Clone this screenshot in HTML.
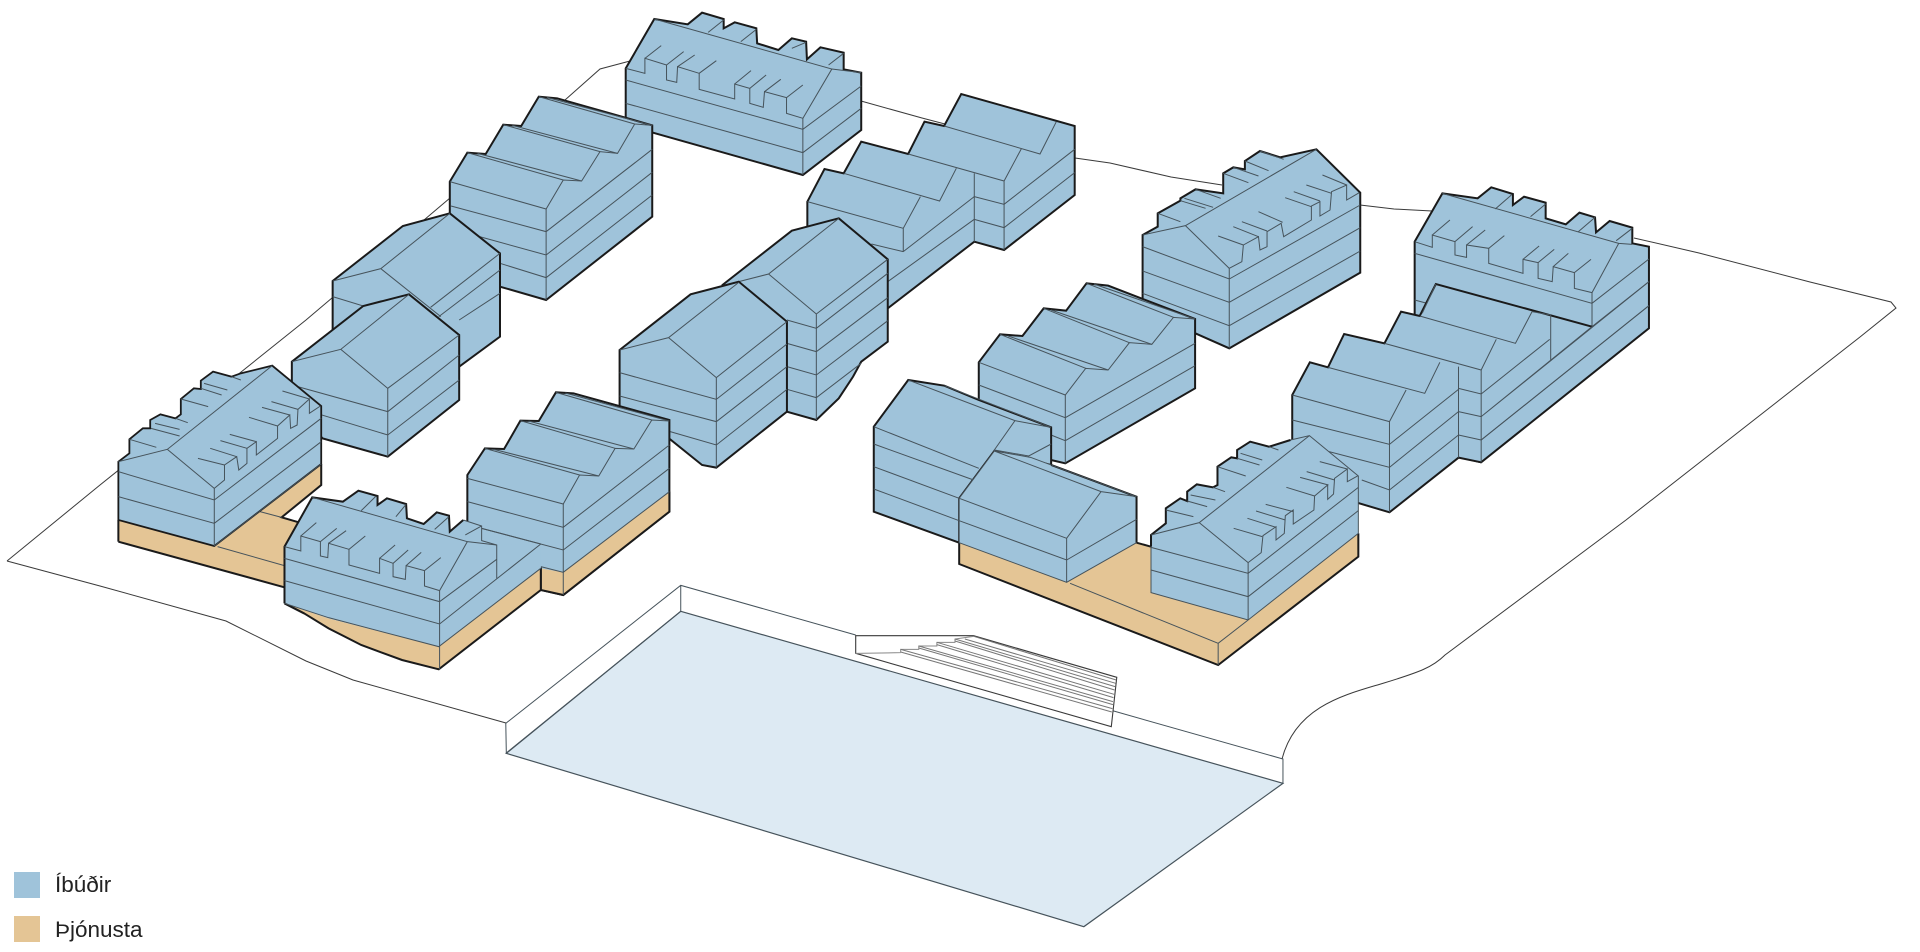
<!DOCTYPE html>
<html><head><meta charset="utf-8"><title>Íbúðir og Þjónusta</title>
<style>
html,body{margin:0;padding:0;background:#fff;width:1920px;height:952px;overflow:hidden}
svg{position:absolute;left:0;top:0}
svg *{vector-effect:non-scaling-stroke;stroke-linejoin:miter}
.t{fill:none;stroke:#46535b;stroke-width:1}
.s{fill:none;stroke:#3a3a3a;stroke-width:1}
.b{fill:#9fc3da;stroke:#1a1a1a;stroke-width:2}
.n{fill:#e4c595;stroke:none}
.e{fill:none;stroke:#1a1a1a;stroke-width:2}
.lg{position:absolute;left:55px;font:22.5px "Liberation Sans",sans-serif;color:#222;line-height:26px}
.sw{position:absolute;left:14px;width:26px;height:26px}
</style></head><body>
<svg width="1920" height="952" viewBox="0 0 1920 952" xmlns="http://www.w3.org/2000/svg">
<!-- site line -->
<path class="s" d="M7 561 100 485 306 320 424 220 450 198 565 100 600 69 630 61"/>
<path class="s" d="M7 561 100 586 226 621 306 661 353 680 506 723"/>
<path class="s" d="M861 101 922 118 1075 158 1110 163 1171 177 1222 185"/>
<path class="s" d="M1360 205 1394 209 1432 211"/>
<path class="s" d="M1634 238 1699 253 1810 282 1891 302 1896 308 1860 337 1626 520 1445 655 C1433 667 1420 672 1384 683 S1296 705 1282 759"/>

<!-- plaza -->
<g transform="translate(480,570) scale(.54847,.33333)">
<polygon points="366,124 1464,640 1101,1070 48,550" fill="#ddeaf3" stroke="#46535b" stroke-width="1.2"/>
<path class="t" d="M48 550 47 460 366 46 685 195M366 46 366 124M1153 422 1464 567 1464 640M47 550 366 124"/>
<polygon points="685,197 900,197 1161,322 1151,470 685,250" fill="#fff" stroke="#3a3a3a" stroke-width="1.1"/>
<path fill="none" stroke="#888" stroke-width="1" d="M685 250 767 248M767 248 767 238 800 238 800 228 833 228 833 217 866 217 866 207 900 199"/>
<path fill="none" stroke="#777" stroke-width="1" d="M767 238 1153 416M767 246 1152 426M800 228 1154 395M800 234 1154 404M833 217 1156 373M833 224 1155 383M866 207 1158 350M866 213 1157 360M900 199 1160 330M884 207 1159 340"/>
</g>

<!-- A top building -->
<g transform="translate(600,0) scale(.40816,.33333)">
<polygon class="b" points="63,205 133,57 215,73 250,38 303,57 303,85 330,67 383,85 385,130 437,150 470,115 505,125 507,178 540,142 597,158 597,208 640,218 640,390 497,525 63,375"/>
<path class="t" d="M133 57 568 207 497 355M568 207 640 218M265 97 303 60M345 125 383 88M470 145 505 127M560 195 597 160"/>
<path class="t" d="M63 205 110 220 110 175 163 195 163 240 188 247 190 200 243 220 243 268 330 297 330 252 367 265 367 310 400 322 403 275 457 293 457 340 497 355"/>
<path class="t" d="M110 175 150 137M163 195 205 155M190 200 232 165M243 220 285 182M330 252 370 212M367 265 407 225M403 275 443 238M457 293 497 255"/>
<path class="t" d="M63 240 497 388 640 258M63 310 497 458 640 325M497 355 497 525"/>
</g>

<!-- B, C, D, E (upper left row) -->
<g transform="translate(100,0) scale(.40816,.33333)">
<polygon class="b" points="857,545 900,458 945,462 988,374 1032,378 1075,290 1120,295 1353,376 1353,650 1093,900 980,860 857,760"/>
<path class="t" d="M857 545 1093 627 1135 540 1180 543 1225 455 1268 460 1310 372 1353 376"/>
<path class="t" d="M900 458 1135 540M925 460 1180 543M988 374 1225 455M1010 376 1268 460M1075 290 1310 372M1095 292 1353 376"/>
<path class="t" d="M860 618 1093 695 1353 448M930 710 1093 765 1353 517M980 790 1093 833 1353 585M1093 627 1093 900"/>
<!-- C -->
<polygon class="b" points="570,843 742,678 857,640 980,760 980,1010 880,1100 570,1150"/>
<path class="t" d="M570 843 688 806 857 640M688 806 835 950M980 760 810 922M980 810 830 950M980 880 880 960M570 890 645 918 757 883"/>
</g>
<g transform="translate(100,320) scale(.40816,.33333)">
<!-- D -->
<polygon class="b" points="470,125 645,-42 757,-77 880,45 880,240 705,410 545,355 470,250"/>
<path class="t" d="M470 125 590 88 757 -77M590 88 705 205 880 45M470 195 705 275 880 105M530 280 705 345 880 180M705 205 705 410"/>
<!-- E tan -->
<polygon class="n" points="45,600 280,678 542,432 542,495 445,592 490,608 455,680 455,805 45,665"/>
<path class="e" d="M45 665 455 803M542 432 542 495 445 592 490 608"/>
<path class="t" d="M288 680 455 738M392 575 445 592"/>
<!-- E -->
<polygon class="b" points="45,425 72,400 72,358 105,325 123,325 123,300 148,283 185,295 198,283 198,237 230,205 247,207 247,182 277,155 322,170 345,160 422,137 542,258 542,432 280,678 45,600" style="stroke-width:1.8"/>
<path class="e" d="M45 600 45 665"/>
<path class="t" d="M280 678 542 432"/>
<path class="t" d="M45 425 165 388 422 137M165 388 280 505"/>
<path class="t" d="M280 505 305 480 305 435 335 410 340 450 360 430 360 385 383 365 383 405 435 355 435 318 465 285 467 325 483 315 485 268 513 237 513 280 540 258"/>
<path class="t" d="M240 415 305 435M270 385 335 410M295 362 360 385M318 343 383 365M365 292 435 318M397 262 465 285M420 245 485 268M447 213 513 237"/>
<path class="t" d="M72 358 138 382M125 325 195 348M135 310 195 328M198 237 265 260M247 205 298 225M255 190 312 210M322 170 345 180M185 295 215 308"/>
<path class="t" d="M45 455 280 540 542 295M45 530 280 610 542 365M280 505 280 678"/>
</g>

<!-- I stepped centre -->
<g transform="translate(600,0) scale(.40816,.33333)">
<polygon class="b" points="508,605 550,507 597,520 640,425 755,462 795,365 843,378 885,282 1163,378 1163,585 990,750 917,725 705,925 508,800"/>
<path class="t" d="M843 378 1078 462 1118 365M755 462 990 543 1032 447M597 520 832 603 873 505M508 605 743 685 785 590M743 685 743 755M917 520 917 725M990 543 990 750"/>
<path class="t" d="M917 590 990 613 1163 448M917 658 990 683 1163 518M743 755 917 590M705 845 917 658M665 732 743 755"/>
</g>
<!-- H1, H2 hip pair -->
<g transform="translate(600,200) scale(.40816,.33333)">
<polygon class="b" points="300,255 470,92 507,80 585,55 705,178 705,425 640,485 620,530 585,595 530,660 458,635 300,500"/>
<path class="t" d="M340 245 413 222 585 55M413 222 530 342 705 178M458 360 530 385 705 220M458 430 530 455 705 293M458 500 530 525 705 362M458 568 530 593 640 490M530 342 530 660"/>
<polygon class="b" points="48,450 222,283 300,258 340,245 458,365 458,635 285,803 250,795 172,718 48,640"/>
<path class="t" d="M48 450 168 413 340 247M168 413 285 533 458 365M48 518 285 598 458 432M48 588 285 665 458 500M172 695 285 735 458 568M285 533 285 803"/>
</g>

<!-- G -->
<g transform="translate(100,320) scale(.40816,.33333)">
<polygon class="b" points="900,465 943,385 990,387 1030,302 1075,303 1117,217 1160,220 1395,300 1395,575 1135,825 1080,810 1080,745 900,700"/>
<polygon class="n" points="1080,745 1135,757 1395,515 1395,575 1135,825 1080,810"/>
<path class="e" d="M1395 515 1395 575 1135 825 1080 810 1080 745"/>
<path class="t" d="M900 475 1135 552 1175 465 1222 468 1262 385 1308 387 1352 300 1395 303"/>
<path class="t" d="M943 385 1175 465M965 388 1222 468M1030 302 1262 385M1050 303 1308 387M1117 217 1352 300M1140 219 1395 303"/>
<path class="t" d="M900 545 1135 622 1395 375M935 625 1135 690 1395 445M1080 740 1135 757 1395 515M1135 552 1135 825"/>
<!-- F tan -->
<polygon class="n" points="830,980 1080,745 1080,810 830,1048 740,1020 640,975 560,925 452,850 560,895"/>
<path class="e" d="M452 850 500 880 560 925 640 975 740 1020 830 1048 1080 810 1080 745"/>
<!-- F -->
<polygon class="b" style="stroke:none" points="452,680 520,532 595,545 633,512 680,528 680,555 703,535 750,552 752,595 793,612 825,577 855,587 857,635 890,600 935,618 935,662 972,675 1080,672 1080,745 830,980 560,895 452,850"/>
<path class="e" d="M452 850 452 680 520 532 595 545 633 512 680 528 680 555 703 535 750 552 752 595 793 612 825 577 855 587 857 635 890 600"/>
<path class="e" d="M452 850 500 880"/>
<path class="t" d="M890 600 935 618 935 662 972 675 972 775M935 625 1080 672M452 850 560 893 830 980 1080 745"/>
<path class="t" d="M520 532 900 665 832 812M640 572 675 530M725 590 750 553M820 628 855 590M895 645 935 618M900 665 972 675"/>
<path class="t" d="M452 680 492 693 492 648 540 665 540 708 558 713 560 670 610 688 610 735 685 760 685 715 718 730 718 770 748 778 750 737 795 752 795 798 832 812"/>
<path class="t" d="M492 648 530 608M540 665 580 625M560 670 603 632M610 688 650 648M685 715 723 675M718 730 755 690M750 737 787 697M795 752 835 713"/>
<path class="t" d="M452 715 832 845 972 718M452 782 832 912 1080 672M832 812 832 1048"/>
</g>

<!-- J -->
<g transform="translate(1130,130) scale(.50383,.33333)">
<polygon class="b" points="25,315 55,290 55,250 100,212 100,205 130,178 185,190 185,130 205,112 228,118 228,93 258,63 298,82 370,58 457,188 457,428 197,655 25,540"/>
<path class="t" d="M25 315 110 287 370 58M110 287 197 415"/>
<path class="t" d="M197 415 222 395 225 345 255 320 258 360 272 350 272 305 300 280 305 320 360 270 360 228 377 215 377 258 397 240 400 185 430 165 430 210 455 188"/>
<path class="t" d="M175 318 225 345M205 290 255 320M222 275 272 303M255 245 303 277M308 203 360 230M325 185 377 213M350 165 400 190M382 135 430 165"/>
<path class="t" d="M55 250 100 275M100 212 150 235M108 205 165 232M130 178 180 205M185 130 235 158M205 112 255 138M228 93 275 122M258 63 305 88"/>
<path class="t" d="M25 350 197 447 457 225M25 423 197 517 457 293M25 490 197 587 457 363M197 415 197 655"/>
</g>
<!-- K -->
<g transform="translate(600,200) scale(.40816,.33333)">
<polygon class="b" points="928,487 980,403 1035,408 1087,325 1142,332 1192,250 1245,257 1458,357 1458,565 1140,790 1105,780 928,700"/>
<path class="t" d="M928 487 1140 585 1190 505 1245 510 1297 428 1352 433 1405 352 1458 357"/>
<path class="t" d="M980 403 1190 505M1000 408 1245 510M1087 325 1297 428M1105 330 1352 433M1192 250 1405 352M1210 252 1458 357"/>
<path class="t" d="M928 555 1140 653 1458 430M1105 705 1140 722 1458 497M1140 585 1140 790"/>
</g>
<!-- O, P -->
<g transform="translate(1130,130) scale(.50383,.33333)">
<polygon class="b" points="565,335 620,190 690,205 717,172 760,192 760,225 782,200 825,218 825,265 865,283 892,248 923,262 925,307 952,273 997,293 997,340 1030,350 1030,595 697,997 650,980 565,700"/>
<path class="t" d="M620 190 970 340 997 343M725 237 757 195M795 260 825 222M890 305 923 262M965 332 997 295"/>
<path class="t" d="M565 335 600 352 600 315 645 335 645 375 668 382 668 345 712 355 712 400 780 430 780 388 810 398 810 445 838 455 840 410 882 428 882 475 917 488 970 340"/>
<path class="t" d="M600 315 635 270M645 335 680 290M668 345 705 300M712 355 743 317M780 388 812 348M810 398 842 358M840 410 870 370M882 428 915 388"/>
<path class="t" d="M565 370 917 520 1030 387M917 488 917 590 1030 455M1030 527 697 930M565 510 590 520"/>
<!-- P -->
<polygon class="b" style="stroke:none" points="322,795 357,697 393,712 425,612 505,640 538,545 575,558 607,462 917,590 697,860 697,997 652,983 515,1147 322,1060"/>
<path class="e" d="M322 1060 322 795 357 697 393 712 425 612 505 640 538 545 575 558 607 462 917 590"/>
<path class="e" d="M652 983 697 997M652 983 515 1147 322 1060"/>
<path class="t" d="M917 590 697 860 1030 455M1030 527 697 930M835 555 835 690M607 462 580 550"/>
<path class="t" d="M575 558 765 640 798 545 835 555M505 640 697 720 727 628M393 712 585 790 615 697M322 795 515 875 548 780"/>
<path class="t" d="M322 870 515 943 652 778M395 965 515 1012 652 845M460 1050 515 1080 652 915M515 875 515 1147M652 710 652 983M697 720 697 997M652 775 697 792 833 628M652 845 697 860M652 915 697 930"/>
</g>
<!-- L, podium, Q -->
<g transform="translate(860,370) scale(.34439,.33333)">
<polygon class="b" points="40,170 140,30 245,47 345,90 555,172 555,285 390,243 288,385 288,518 40,425"/>
<path class="t" d="M140 30 450 152 390 240 490 258 555 222M245 47 555 172M450 152 555 172M40 222 330 330M40 290 288 385M40 357 288 452"/>
<path class="t" d="M40 170 345 295"/>
<polygon class="n" points="288,515 288,582 1040,885 1447,560 1447,490 1127,750 845,668 845,530 803,518 600,637"/>
<path class="e" d="M288 515 288 582 1040 885 1447 560 1447 490M803 518 845 530"/>
<path class="t" d="M610 640 1040 820 1127 750M1040 820 1040 885"/>
<polygon class="b" style="stroke:none" points="288,385 390,243 495,262 555,285 803,380 803,518 600,637 288,518"/>
<path class="e" d="M555 285 803 380 803 518"/>
<path class="t" d="M288 385 390 243 495 262M390 243 700 365 600 505 288 385M495 262 803 380M700 365 803 380M288 452 600 570 803 448M288 385 288 520M600 505 600 637M288 518 600 637 803 518"/>
<polygon class="b" style="stroke:none" points="845,495 888,460 888,415 930,385 950,393 950,365 978,343 1025,352 1038,345 1038,290 1078,262 1095,265 1095,240 1133,215 1188,230 1250,210 1305,197 1447,318 1447,490 1127,750 845,668"/>
<path class="e" d="M845 530 845 495 888 460 888 415 930 385 950 393 950 365 978 343 1025 352 1038 345 1038 290 1078 262 1095 265 1095 240 1133 215 1188 230 1250 210"/>
<path class="t" d="M1250 210 1305 197 1447 318 1447 490 1127 750 845 668 845 530"/>
<path class="t" d="M845 495 985 458 1305 197M985 458 1127 578"/>
<path class="t" d="M1127 578 1165 548 1170 497 1208 470 1208 510 1232 490 1235 437 1258 420 1258 462 1318 420 1320 378 1358 345 1358 388 1375 372 1378 325 1415 297 1415 335 1445 318"/>
<path class="t" d="M1085 475 1168 500M1125 445 1208 472M1150 423 1235 450M1178 403 1258 425M1238 352 1320 378M1278 322 1360 345M1297 305 1378 330M1335 275 1415 297"/>
<path class="t" d="M888 420 968 440M950 393 1008 410M960 375 1032 390M1025 352 1060 365M1038 290 1120 318M1095 265 1160 285M1105 250 1168 270M1188 230 1215 240"/>
<path class="t" d="M845 532 1127 610 1447 352M845 600 1127 680 1447 422M1127 578 1127 750"/>
</g>
</svg>
<div class="sw" style="top:872px;background:#9fc3da"></div>
<div class="sw" style="top:916px;background:#e4c595"></div>
<div class="lg" style="top:872px">Íbúðir</div>
<div class="lg" style="top:917px">Þjónusta</div>
</body></html>
